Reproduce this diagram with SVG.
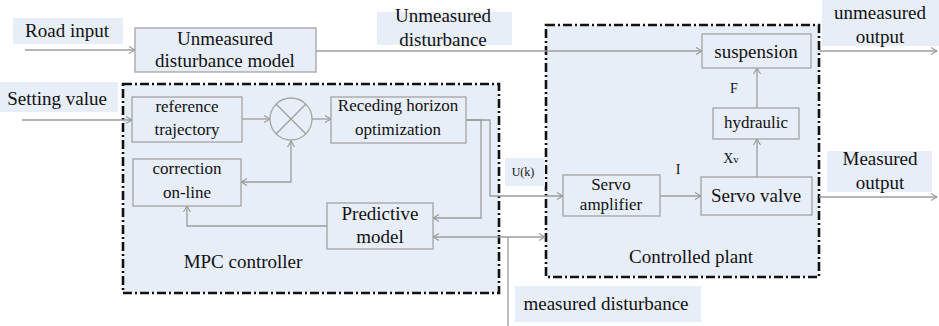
<svg xmlns="http://www.w3.org/2000/svg" width="939" height="326" viewBox="0 0 939 326">
<defs>
<marker id="arr" markerWidth="8" markerHeight="8" refX="7" refY="4" orient="auto-start-reverse" markerUnits="userSpaceOnUse">
<path d="M1,0.5 L7,4 L1,7.5" fill="none" stroke="#999" stroke-width="1.1"/>
</marker>
<style>
text{fill:#111;text-anchor:middle;font-family:"Liberation Serif",Tinos,"Times New Roman","DejaVu Serif",serif}
.t19{font-size:19px}
.t17{font-size:17px}
.t14{font-size:14px}
.lbl{fill:#e8eef8;stroke:none}
.box{fill:#e8eef8;stroke:#a3a3a3;stroke-width:1.3}
.reg{fill:#e8eef8;stroke:#111;stroke-width:2.6;stroke-dasharray:9 3 2 3}
.ln{fill:none;stroke:#9c9c9c;stroke-width:1.3}
</style>
</defs>
<rect width="939" height="326" fill="#fff"/>
<g id="mpc-region">
<rect class="reg" x="123" y="84" width="376" height="209"/>
<text class="t19" x="243" y="268">MPC controller</text>
</g>
<g id="plant-region">
<rect class="reg" x="546" y="25" width="273" height="252"/>
<text class="t19" x="691" y="263">Controlled plant</text>
</g>

<g id="connectors">
<line class="ln" x1="25" y1="50" x2="135" y2="50" marker-end="url(#arr)"/>
<line class="ln" x1="316" y1="51" x2="702" y2="51" marker-end="url(#arr)"/>
<line class="ln" x1="819" y1="51" x2="937" y2="51" marker-end="url(#arr)"/>
<line class="ln" x1="22" y1="120" x2="132" y2="120" marker-end="url(#arr)"/>
<line class="ln" x1="242" y1="119" x2="270" y2="119" marker-end="url(#arr)"/>
<line class="ln" x1="312" y1="119" x2="331" y2="119" marker-end="url(#arr)"/>
<polyline class="ln" points="291,141 291,182 241,182" marker-start="url(#arr)" marker-end="url(#arr)"/>
<polyline class="ln" points="327,226 187,226 187,206" marker-end="url(#arr)"/>
<polyline class="ln" points="466,120 481,120 481,218 433,218" marker-end="url(#arr)"/>
<polyline class="ln" points="466,120 490,120 490,196 563,196" marker-end="url(#arr)"/>
<line class="ln" x1="433" y1="237" x2="545" y2="237" marker-start="url(#arr)" marker-end="url(#arr)"/>
<line class="ln" x1="508" y1="237" x2="508" y2="326"/>
<line class="ln" x1="660" y1="196" x2="701" y2="196" marker-end="url(#arr)"/>
<line class="ln" x1="757" y1="177" x2="757" y2="139" marker-end="url(#arr)"/>
<line class="ln" x1="757" y1="108" x2="757" y2="68" marker-end="url(#arr)"/>
<line class="ln" x1="819" y1="197" x2="937" y2="197" marker-end="url(#arr)"/>
</g>

<g id="road-input">
<rect class="lbl" x="13" y="18" width="110" height="26"/>
<text class="t19" x="67" y="37">Road input</text>
</g>
<g id="unmeasured-disturbance-model">
<rect class="box" x="135" y="28" width="181" height="44"/>
<text class="t19" x="225" y="45">Unmeasured</text>
<text class="t19" x="225" y="67">disturbance model</text>
</g>
<g id="unmeasured-disturbance">
<rect class="lbl" x="377" y="12" width="135" height="33"/>
<text class="t19" x="443" y="22">Unmeasured</text>
<text class="t19" x="443" y="46">disturbance</text>
</g>
<g id="unmeasured-output">
<rect class="lbl" x="822" y="0" width="117" height="46"/>
<text class="t19" x="880" y="19">unmeasured</text>
<text class="t19" x="880" y="43">output</text>
</g>
<g id="setting-value">
<rect class="lbl" x="0" y="82" width="118" height="30"/>
<text class="t19" x="57" y="105">Setting value</text>
</g>
<g id="reference-trajectory">
<rect class="box" x="132" y="97" width="110" height="45"/>
<text class="t17" x="187" y="112">reference</text>
<text class="t17" x="187" y="135">trajectory</text>
</g>
<g id="sum">
<circle cx="291" cy="119" r="21" fill="#e8eef8" stroke="#a3a3a3" stroke-width="1.3"/>
<line class="ln" x1="276" y1="104" x2="306" y2="134"/>
<line class="ln" x1="306" y1="104" x2="276" y2="134"/>
</g>
<g id="receding-horizon">
<rect class="box" x="331" y="97" width="135" height="46"/>
<text class="t17" x="398" y="111">Receding horizon</text>
<text class="t17" x="398" y="135">optimization</text>
</g>
<g id="correction-online">
<rect class="box" x="133" y="159" width="108" height="47"/>
<text class="t17" x="187" y="174">correction</text>
<text class="t17" x="187" y="198">on-line</text>
</g>
<g id="predictive-model">
<rect class="box" x="327" y="203" width="106" height="46"/>
<text class="t19" x="380" y="220">Predictive</text>
<text class="t19" x="380" y="243">model</text>
</g>
<g id="uk">
<rect class="lbl" x="505" y="158" width="40" height="28"/>
<text x="523" y="176" style="font-size:12px">U(k)</text>
</g>
<g id="suspension">
<rect class="box" x="702" y="34" width="109" height="34"/>
<text class="t19" x="756" y="58">suspension</text>
</g>
<g id="f-label"><text class="t14" x="734" y="93">F</text></g>
<g id="hydraulic">
<rect class="box" x="713" y="108" width="86" height="31"/>
<text class="t17" x="756" y="128">hydraulic</text>
</g>
<g id="xv-label"><text class="t14" x="731" y="163">X<tspan style="font-size:11px">v</tspan></text></g>
<g id="servo-valve">
<rect class="box" x="701" y="177" width="111" height="38"/>
<text class="t19" x="756" y="202">Servo valve</text>
</g>
<g id="i-label"><text class="t14" x="678" y="174">I</text></g>
<g id="servo-amplifier">
<rect class="box" x="563" y="175" width="97" height="41"/>
<text class="t17" x="611" y="190">Servo</text>
<text class="t17" x="611" y="210">amplifier</text>
</g>
<g id="measured-output">
<rect class="lbl" x="827" y="151" width="105" height="41"/>
<text class="t19" x="880" y="165">Measured</text>
<text class="t19" x="880" y="189">output</text>
</g>
<g id="measured-disturbance">
<rect class="lbl" x="515" y="286" width="186" height="36"/>
<text class="t19" x="606" y="310">measured disturbance</text>
</g>
</svg>
